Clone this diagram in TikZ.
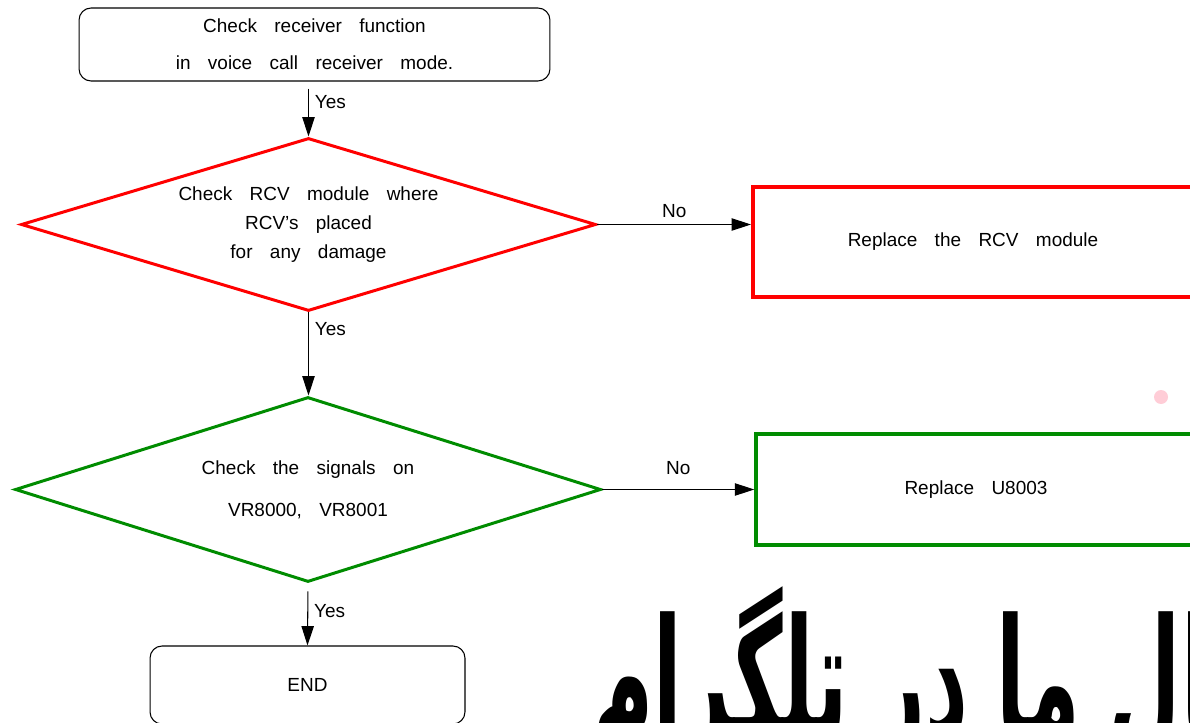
\documentclass[tikz,border=0pt]{standalone}
\usepackage{fontspec}
\setmainfont[WordSpace=3.3]{Liberation Sans}
\newfontfamily\arabicfont[Script=Arabic]{DejaVu Sans}
\TeXXeTstate=1
\usepackage{graphicx}
\usepackage{xcolor}
\usetikzlibrary{arrows.meta,shapes.geometric}
\definecolor{flowred}{RGB}{255,0,0}
\definecolor{flowgreen}{RGB}{0,140,0}
\definecolor{dotpink}{RGB}{255,205,215}
\tikzset{
  flowtext/.style={font=\fontsize{10.8}{13}\selectfont,align=center},
  endbox/.style={flowtext,draw,line width=0.6pt,rounded corners=0.24cm},
  checkdiamond/.style={flowtext,diamond,draw,inner sep=0pt,line width=1.7pt},
  fixbox/.style={flowtext,draw,rectangle},
  flow/.style={-{Triangle[length=11pt,width=7pt]},line width=0.6pt},
}

\begin{document}
\begin{tikzpicture}[x=0.02cm,y=-0.02cm]
  \useasboundingbox (0,0) rectangle (1190,723);
  \clip (0,0) rectangle (1190,723);

  % watermark and dot
  \node[inner sep=0pt,anchor=base west] (wm) at (592,738)
    {\scalebox{0.5}[1]{\arabicfont\bfseries\fontsize{95}{95}\selectfont\beginR کانال ما در تلگرام\endR}};
  \fill[dotpink] (1161,397) circle[radius=0.14cm];

  % main column
  \node[endbox,minimum width=9.42cm,minimum height=1.46cm,
        font=\fontsize{10.8}{21}\selectfont]
    (start) at (314.5,44.5) {Check receiver function\\in voice call receiver mode.};
  \node[checkdiamond,flowred,text=black,aspect=3.32,
        minimum width=11.5cm,minimum height=3.46cm,
        font=\fontsize{10.8}{16.5}\selectfont]
    (rcvcheck) at (308.5,224.5) {Check RCV module where\\RCV's placed\\for any damage};
  \node[checkdiamond,flowgreen,text=black,aspect=3.17,
        minimum width=11.72cm,minimum height=3.7cm,
        font=\fontsize{10.8}{23.9}\selectfont]
    (sigcheck) at (308,489.5) {Check the signals on\\VR8000, VR8001};
  \node[endbox,minimum width=6.3cm,minimum height=1.56cm] (finish) at (307.5,685) {END};

  % replace boxes
  \node[fixbox,draw=flowred,line width=2.3pt,minimum width=8.8cm,minimum height=2.2cm]
    (rcvfix) at (973,242) {Replace the RCV module};
  \node[fixbox,draw=flowgreen,line width=2pt,minimum width=8.8cm,minimum height=2.22cm]
    (ufix) at (976,489.5) {Replace U8003};

  % connectors
  \draw[flow,shorten <=0.14cm] (start.south -| rcvcheck.north) -- (rcvcheck.north)
    node[flowtext,anchor=west,pos=0.38] {Yes};
  \draw[flow] (rcvcheck.south) -- (rcvcheck.south |- sigcheck.north)
    node[flowtext,anchor=west,pos=0.2] {Yes};
  \draw[flow,shorten <=0.16cm] (sigcheck.south) -- (finish.north)
    node[flowtext,anchor=west,pos=0.45] {Yes};
  \draw[flow] (rcvcheck.east) -- (rcvcheck.east -| rcvfix.west)
    node[flowtext,above,midway] {No};
  \draw[flow] (sigcheck.east) -- (sigcheck.east -| ufix.west)
    node[flowtext,above=5pt,midway] {No};
\end{tikzpicture}
\end{document}
